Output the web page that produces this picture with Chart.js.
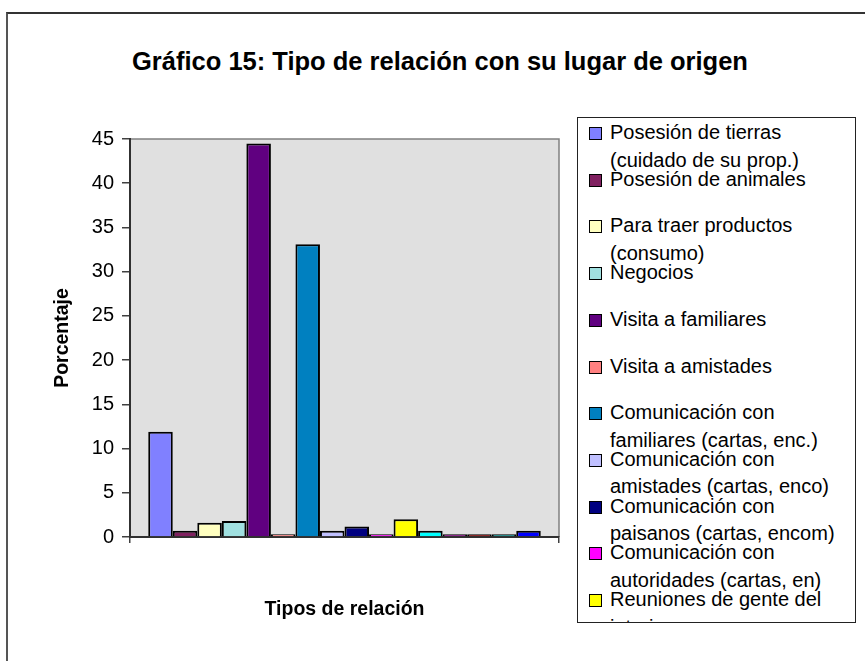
<!DOCTYPE html>
<html>
<head>
<meta charset="utf-8">
<script src="https://cdn.jsdelivr.net/npm/chart.js@4/dist/chart.umd.min.js"></script>
<style>
	body { margin: 0; background: #fff; overflow: hidden; font-family: "Liberation Sans", Arial, sans-serif; }
	#frame { position: absolute; left: 6px; top: 12px; width: 900px; height: 700px; border-left: 2px solid #555; border-top: 2px solid #333; }
	#title { position: absolute; left: 0; top: 46px; width: 880px; text-align: center; font-weight: bold; font-size: 25.5px; line-height: 30px; }
	#legend { position: absolute; left: 577px; top: 117px; width: 277px; height: 504px; border: 1px solid #222; background: #fff; overflow: hidden; }
	.item { position: absolute; left: 0; width: 270px; font-size: 20px; line-height: 27.5px; }
	.swatch { position: absolute; left: 11px; top: 8px; width: 11px; height: 11px; border: 1px solid #000; }
	.text { position: absolute; left: 32px; white-space: nowrap; }
</style>
</head>
<body>
<div id="frame"></div>
<div id="title">Gráfico 15: Tipo de relación con su lugar de origen</div>
<canvas id="chart" width="865" height="661" style="position:absolute;left:0;top:0;"></canvas>
<div id="legend"></div>
<script>
// one category, sixteen series (percent)
const categories = [""];

const series_names = [
	["Posesión de tierras", "(cuidado de su prop.)"],
	["Posesión de animales"],
	["Para traer productos", "(consumo)"],
	["Negocios"],
	["Visita a familiares"],
	["Visita a amistades"],
	["Comunicación con", "familiares (cartas, enc.)"],
	["Comunicación con", "amistades (cartas, enco)"],
	["Comunicación con", "paisanos (cartas, encom)"],
	["Comunicación con", "autoridades (cartas,  en)"],
	["Reuniones de gente del", "interior"],
	["Fiestas del pueblo"],
	["Envío de dinero"],
	["Participación en asociaciones"],
	["Otros"],
	["No responde"],
];

const series_values = [11.9, 0.7, 1.6, 1.8, 44.5, 0.3, 33.1, 0.7, 1.2, 0.3, 2.0, 0.7, 0.3, 0.3, 0.3, 0.7];

const palette = [
	"#8080FF", "#802060", "#FFFFC0", "#A0E0E0", "#600080", "#FF8080", "#0080C0", "#C0C0FF",
	"#000080", "#FF00FF", "#FFFF00", "#00FFFF", "#800080", "#800000", "#008080", "#0000FF",
];

const y_ticks = [0, 5, 10, 15, 20, 25, 30, 35, 40, 45];

const font_family = "'Liberation Sans', Arial, sans-serif";

let datasets = [];
for (let i = 0; i < series_values.length; i++) {
	datasets.push({
		label: series_names[i].join(" "),
		data: [series_values[i]],
		backgroundColor: palette[i],
		borderColor: "#000",
		borderWidth: 2,
		categoryPercentage: 0.915,
		barPercentage: 1,
	});
}

const plot_background = {
	id: "plot_background",
	beforeDraw(chart) {
		const { ctx, chartArea } = chart;
		ctx.save();
		ctx.fillStyle = "#E0E0E0";
		ctx.fillRect(chartArea.left, chartArea.top, chartArea.right - chartArea.left, chartArea.bottom - chartArea.top);
		ctx.strokeStyle = "#808080";
		ctx.lineWidth = 1.5;
		ctx.beginPath();
		ctx.moveTo(chartArea.left, chartArea.top);
		ctx.lineTo(chartArea.right, chartArea.top);
		ctx.lineTo(chartArea.right, chartArea.bottom);
		ctx.stroke();
		ctx.restore();
	},
};

const ctx = document.getElementById("chart").getContext("2d");
const chart = new Chart(ctx, {
	type: "bar",
	data: { labels: categories, datasets: datasets },
	plugins: [plot_background],
	options: {
		responsive: false,
		animation: false,
		layout: { padding: { top: 139, left: 51, right: 306, bottom: 40 } },
		plugins: {
			legend: { display: false },
			title: { display: false },
			tooltip: { enabled: false },
		},
		scales: {
			x: {
				afterFit: function (scale) { scale.height = 84; },
				grid: { offset: true, drawOnChartArea: false, drawTicks: true, tickLength: 6, color: "#404040", lineWidth: 1.5 },
				border: { color: "#303030", width: 2 },
				ticks: { display: false },
				title: {
					display: true,
					text: "Tipos de relación",
					color: "#000",
					font: { family: font_family, size: 19.5, weight: "bold" },
					padding: { top: 0, bottom: 0 },
				},
			},
			y: {
				min: 0,
				max: 45,
				afterFit: function (scale) { scale.width = 79; },
				afterBuildTicks: function (scale) {
					scale.ticks = y_ticks.map((v) => ({ value: v }));
				},
				grid: { drawOnChartArea: false, drawTicks: true, tickLength: 8, color: "#404040", lineWidth: 1.5 },
				border: { color: "#303030", width: 2 },
				ticks: {
					color: "#000",
					padding: 8,
					font: { family: font_family, size: 20 },
				},
				title: {
					display: true,
					text: "Porcentaje",
					color: "#000",
					font: { family: font_family, size: 19.5, weight: "bold" },
					padding: { top: 0, bottom: 0 },
				},
			},
		},
	},
});

// legend: Excel-like box, entries 46.7px apart, clipped at the bottom
const legend_div = document.getElementById("legend");
chart.data.datasets.forEach(function (ds, i) {
	let html = `<div class="item" style="top:${1 + i * 46.7}px">
		<div class="swatch" style="background:${ds.backgroundColor}"></div>
		<div class="text">${series_names[i].join("<br>")}</div>
	</div>`;
	legend_div.insertAdjacentHTML("beforeend", html);
});
</script>
</body>
</html>
